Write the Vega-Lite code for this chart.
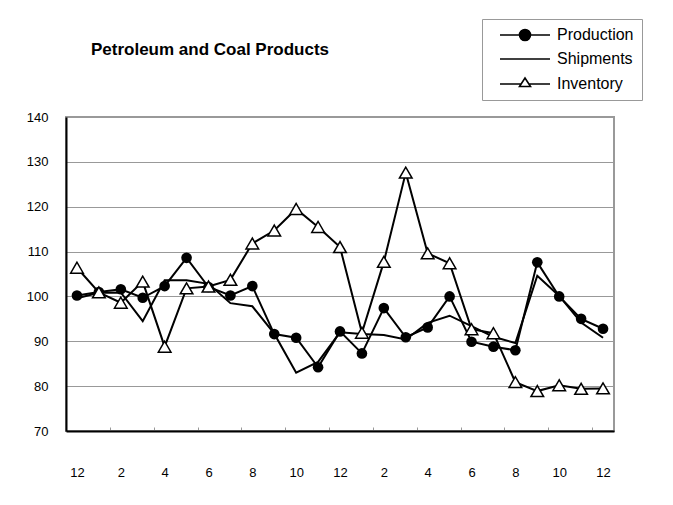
{
 "$schema": "https://vega.github.io/schema/vega-lite/v6.json",
 "width": 548, "height": 314,
 "autosize": {"type": "none"},
 "padding": {"left": 66, "top": 117, "right": 59, "bottom": 74},
 "background": "white",
 "title": {"text": "Petroleum and Coal Products", "anchor": "start", "align": "center", "dx": 144, "offset": 0, "dy": 48, "baseline": "middle", "fontSize": 17, "font": "Liberation Sans", "fontWeight": "bold", "color": "black", "frame": "group"},
 "config": {"view": {"stroke": "#999", "strokeWidth": 2}, "font": "Liberation Sans"},
 "data": {"values": [
   {"t":0,"series":"Production","value":100.2},
   {"t":1,"series":"Production","value":101.0},
   {"t":2,"series":"Production","value":101.6},
   {"t":3,"series":"Production","value":99.7},
   {"t":4,"series":"Production","value":102.3},
   {"t":5,"series":"Production","value":108.6},
   {"t":6,"series":"Production","value":102.1},
   {"t":7,"series":"Production","value":100.2},
   {"t":8,"series":"Production","value":102.3},
   {"t":9,"series":"Production","value":91.6},
   {"t":10,"series":"Production","value":90.8},
   {"t":11,"series":"Production","value":84.2},
   {"t":12,"series":"Production","value":92.2},
   {"t":13,"series":"Production","value":87.3},
   {"t":14,"series":"Production","value":97.4},
   {"t":15,"series":"Production","value":90.9},
   {"t":16,"series":"Production","value":93.1},
   {"t":17,"series":"Production","value":100.0},
   {"t":18,"series":"Production","value":89.9},
   {"t":19,"series":"Production","value":88.8},
   {"t":20,"series":"Production","value":88.0},
   {"t":21,"series":"Production","value":107.6},
   {"t":22,"series":"Production","value":100.0},
   {"t":23,"series":"Production","value":95.0},
   {"t":24,"series":"Production","value":92.8},
   {"t":0,"series":"Shipments","value":99.6},
   {"t":1,"series":"Shipments","value":100.8},
   {"t":2,"series":"Shipments","value":100.9},
   {"t":3,"series":"Shipments","value":94.5},
   {"t":4,"series":"Shipments","value":103.6},
   {"t":5,"series":"Shipments","value":103.6},
   {"t":6,"series":"Shipments","value":102.8},
   {"t":7,"series":"Shipments","value":98.5},
   {"t":8,"series":"Shipments","value":97.8},
   {"t":9,"series":"Shipments","value":91.7},
   {"t":10,"series":"Shipments","value":83.0},
   {"t":11,"series":"Shipments","value":85.4},
   {"t":12,"series":"Shipments","value":92.0},
   {"t":13,"series":"Shipments","value":91.6},
   {"t":14,"series":"Shipments","value":91.4},
   {"t":15,"series":"Shipments","value":90.4},
   {"t":16,"series":"Shipments","value":94.1},
   {"t":17,"series":"Shipments","value":95.7},
   {"t":18,"series":"Shipments","value":93.4},
   {"t":19,"series":"Shipments","value":91.0},
   {"t":20,"series":"Shipments","value":89.6},
   {"t":21,"series":"Shipments","value":104.6},
   {"t":22,"series":"Shipments","value":100.1},
   {"t":23,"series":"Shipments","value":94.2},
   {"t":24,"series":"Shipments","value":90.8},
   {"t":0,"series":"Inventory","value":106.4},
   {"t":1,"series":"Inventory","value":100.9},
   {"t":2,"series":"Inventory","value":98.6},
   {"t":3,"series":"Inventory","value":103.3},
   {"t":4,"series":"Inventory","value":88.8},
   {"t":5,"series":"Inventory","value":101.8},
   {"t":6,"series":"Inventory","value":102.2},
   {"t":7,"series":"Inventory","value":103.7},
   {"t":8,"series":"Inventory","value":111.8},
   {"t":9,"series":"Inventory","value":114.7},
   {"t":10,"series":"Inventory","value":119.5},
   {"t":11,"series":"Inventory","value":115.5},
   {"t":12,"series":"Inventory","value":111.0},
   {"t":13,"series":"Inventory","value":91.9},
   {"t":14,"series":"Inventory","value":107.7},
   {"t":15,"series":"Inventory","value":127.6},
   {"t":16,"series":"Inventory","value":109.6},
   {"t":17,"series":"Inventory","value":107.4},
   {"t":18,"series":"Inventory","value":92.7},
   {"t":19,"series":"Inventory","value":91.8},
   {"t":20,"series":"Inventory","value":80.9},
   {"t":21,"series":"Inventory","value":78.9},
   {"t":22,"series":"Inventory","value":80.2},
   {"t":23,"series":"Inventory","value":79.4},
   {"t":24,"series":"Inventory","value":79.5}
 ]},
 "encoding": {
  "x": {"field": "t", "type": "quantitative",
   "scale": {"domain": [-0.5, 24.5], "nice": false, "zero": false},
   "axis": {"title": null, "values": [-0.5, 1.5, 3.5, 5.5, 7.5, 9.5, 11.5, 13.5, 15.5, 17.5, 19.5, 21.5, 23.5],
    "labelOffset": 11, "labelExpr": "'' + (((datum.value + 11.5) % 12) + 1)",
    "tickSize": -4, "tickColor": "#999", "tickWidth": 1, "domainColor": "black", "domainWidth": 2,
    "labelPadding": 39, "labelFontSize": 13, "labelColor": "black", "labelFont": "Liberation Sans", "labelAngle": 0, "labelFlush": false, "labelOverlap": false, "grid": false}},
  "y": {"field": "value", "type": "quantitative",
   "scale": {"domain": [70, 140], "nice": false, "zero": false},
   "axis": {"title": null, "values": [70,80,90,100,110,120,130,140], "tickSize": 0, "labelPadding": 18, "grid": true, "gridColor": "#999", "gridWidth": 1,
    "domainColor": "black", "domainWidth": 2, "labelFontSize": 13, "labelColor": "black", "labelFont": "Liberation Sans"}}
 },
 "layer": [
  {"mark": {"type": "line", "strokeWidth": 2},
   "encoding": {"stroke": {"field": "series", "type": "nominal",
     "scale": {"domain": ["Production", "Shipments", "Inventory"], "range": ["black", "black", "black"]},
     "legend": {"title": null, "orient": "none", "legendX": 416, "legendY": -98,
      "strokeColor": "#999", "fillColor": "white", "padding": 8,
      "symbolSize": 100, "symbolOffset": 27, "symbolStrokeWidth": 2, "symbolStrokeColor": "black",
      "labelFontSize": 16, "labelColor": "black", "labelFont": "Liberation Sans", "labelOffset": 24, "rowPadding": 7,
      "encode": {"symbols": {"update": {
        "shape": {"signal": "datum.value === 'Production' ? 'M-5,0H5M1.1,0A1.1,1.1,0,1,1,-1.1,0A1.1,1.1,0,1,1,1.1,0Z' : datum.value === 'Inventory' ? 'M-5,0H-0.78M0.78,0H5M-1.1,0.5L1.1,0.5L0,-1.2Z' : 'M-5,0H5'"},
        "fill": {"signal": "datum.value === 'Inventory' ? 'white' : 'black'"},
        "stroke": {"value": "black"},
        "strokeWidth": {"value": 1.6},
        "opacity": {"value": 1}
      }}}}}}},
  {"transform": [{"filter": "datum.series === 'Production'"}],
   "mark": {"type": "point", "shape": "circle", "filled": true, "size": 113, "color": "black", "opacity": 1}},
  {"transform": [{"filter": "datum.series === 'Inventory'"}],
   "mark": {"type": "point", "shape": "triangle-up", "filled": true, "fill": "white", "stroke": "black", "strokeWidth": 1.5, "size": 160, "opacity": 1}}
 ]
}
